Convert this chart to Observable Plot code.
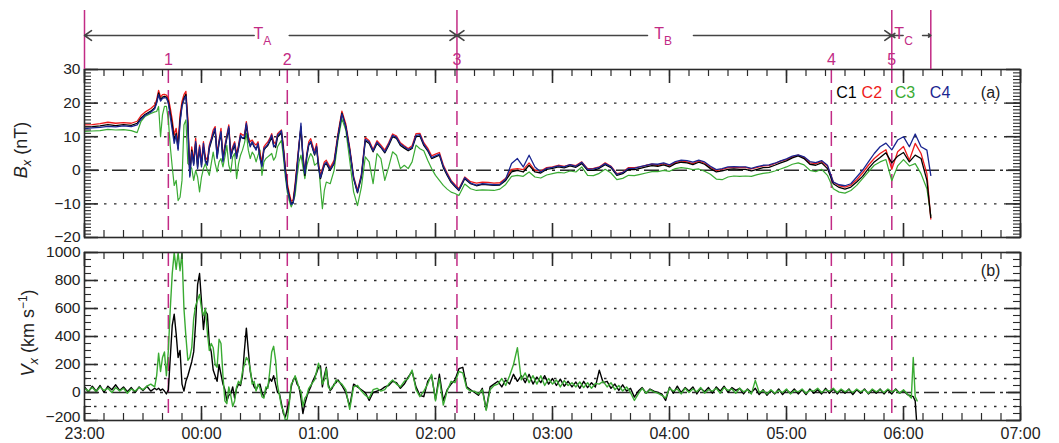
<!DOCTYPE html>
<html><head><meta charset="utf-8">
<script src="https://cdn.jsdelivr.net/npm/d3@7"></script>
<script src="https://cdn.jsdelivr.net/npm/@observablehq/plot@0.6"></script>
<style>
body{margin:0;background:#fff;}
#wrap{position:relative;width:1059px;height:443px;overflow:hidden;background:#fff;}
#wrap svg{position:absolute;left:0;}
</style></head><body><div id="wrap"></div>
<script>
// ---------------- DATA ----------------
// time axis in minutes after 23:00
const hourTicks = [0, 60, 120, 180, 240, 300, 360, 420, 480];
const hourLabels = ["23:00","00:00","01:00","02:00","03:00","04:00","05:00","06:00","07:00"];

// event markers (minutes after 23:00)
const markerTimes = [43, 104, 191, 383, 414];
const markerLabels = ["1", "2", "3", "4", "5"];
const boundaryTimes = [0, 191, 414, 434];
const intervalNames = ["A", "B", "C"];
const intervalLabelTimes = [91.5, 297, 420.3];
const arrowFrom = [87, 105, 288.7, 312.3, 419.8, 429.8];
const arrowTo   = [0, 191, 191, 414, 414, 434];

// panel (a) Bx (nT)
const yTicksA = [30, 20, 10, 0, -10, -20];
const gridA = [20, 10, -10];
const seriesNames = ["C1", "C2", "C3", "C4"];
const tB = [0,4,8,12,16,20,24,27,29,31,34,36,
 37,38,39,40,41,42,43,44,45,46,
 47,48,49,50,51,52,53,54,55,56,
 57,58,59,60,61,62,63,64,65,66,
 67,68,69,70,71,72,73,74,75,76,
 77,78,79,80,81,82,83,84,85,86,
 87,88,89,90,91,92,93,94,95,96,
 97,98,99,100,101,102,103,104,105,106,
 107,108,109,110,111,112,113,114,115,116,
 117,118,119,120,121,122,123,124,
 126,128,130,132,134,136,138,140,142,144,146,148,150,152,154,156,158,160,162,164,166,168,170,172,174,176,178,180,182,184,186,188,190,
 192,195,198,201,204,207,210,213,216,219,
 222,225,228,231,234,237,240,243,246,249,
 252,255,258,261,264,267,270,273,276,279,
 282,285,288,291,294,297,300,303,306,309,
 312,315,318,321,324,327,330,333,336,339,
 342,345,348,351,354,357,360,363,366,369,
 372,375,378,381,384,387,390,393,396,399,
 402,405,408,411,414,417,420,423,426,429,
 432,434];
const bxC1 = [12.9,13.0,13.2,13.6,13.3,13.6,13.4,14.0,15.6,16.6,17.6,18.6,
 20.3,23.0,21.0,21.8,22.0,21.8,20.5,17.0,13.5,9.0,
 11.0,6.5,15.0,19.3,21.5,22.6,14.0,-1.5,6.0,2.0,
 8.0,1.0,6.4,1.5,7.0,3.0,2.0,6.5,8.5,10.5,
 12.0,4.0,8.0,11.0,3.0,6.5,9.5,12.5,4.0,6.0,
 7.4,4.0,6.5,9.9,9.6,9.4,13.5,9.0,7.4,8.2,
 7.0,6.5,7.5,4.0,1.5,6.0,6.8,7.4,8.5,9.9,
 7.5,6.8,9.9,10.5,11.2,6.4,0.0,-5.0,-7.6,-9.9,
 -9.5,-5.0,1.0,7.0,13.0,3.5,-1.5,4.0,7.5,8.4,
 6.4,4.5,6.9,1.0,-2.5,-0.5,1.5,2.0,
 0.0,2.0,10.0,17.0,13.0,6.0,-2.5,-6.7,-2.0,8.8,8.0,5.5,8.0,6.8,5.2,7.4,10.0,9.5,7.4,6.6,5.8,6.5,10.0,10.2,7.4,5.8,3.5,4.0,4.5,0.8,-1.5,-3.6,-4.8,
 -6.0,-2.5,-4.0,-4.6,-4.2,-4.3,-4.5,-4.4,-3.0,-0.5,
 0.0,-0.5,1.5,-0.5,-0.8,0.3,0.6,1.0,0.7,1.3,
 0.9,2.0,0.0,0.0,0.6,1.7,0.8,-1.5,-1.0,0.3,
 0.2,0.6,1.0,1.4,1.2,1.6,1.0,2.0,2.4,2.2,
 1.7,2.4,1.8,0.5,-0.5,-0.2,0.3,0.4,0.3,0.3,
 -0.2,0.3,0.8,0.9,1.5,2.2,2.8,3.7,4.3,3.5,
 1.8,1.5,2.2,0.5,-4.0,-5.1,-5.6,-5.0,-3.5,-1.8,
 0.5,2.5,3.8,5.2,2.2,4.2,5.3,2.5,4.5,3.5,
 -3.0,-14.0];
const bxC2 = [13.5,13.6,13.9,14.3,14.0,14.2,14.0,14.6,16.3,17.3,18.4,19.4,
 21.0,23.8,21.8,22.5,22.6,22.4,21.5,18.5,15.0,10.5,
 12.5,8.0,16.5,20.5,22.5,23.5,15.5,-0.5,7.0,3.0,
 9.5,2.0,7.5,2.5,8.5,4.0,3.0,7.5,9.5,12.0,
 13.0,5.0,9.0,12.5,4.0,7.5,10.5,13.5,5.0,7.0,
 8.5,5.0,7.5,11.0,10.5,10.5,14.5,10.0,8.5,9.0,
 8.0,7.5,8.5,5.0,2.5,7.0,7.8,8.4,9.5,10.9,
 8.5,7.8,10.9,11.5,12.0,7.4,1.0,-4.0,-6.8,-9.2,
 -8.8,-4.0,2.0,8.0,12.5,4.5,-0.5,5.0,8.5,9.4,
 7.4,5.5,7.9,2.0,-1.5,0.5,2.5,3.0,
 0.8,3.0,11.0,17.6,13.8,6.8,-1.8,-6.0,-1.2,9.8,8.8,6.2,8.8,7.5,6.0,8.2,10.8,10.2,8.2,7.3,6.5,7.3,10.9,11.0,8.2,6.6,4.3,4.8,5.3,1.6,-0.8,-3.0,-4.3,
 -5.5,-2.0,-3.4,-3.8,-3.5,-3.6,-3.8,-3.7,-2.4,0.3,
 0.5,0.2,2.2,0.0,-0.2,0.8,1.0,1.5,1.2,1.7,
 1.4,2.5,0.5,0.6,1.0,2.2,1.2,-1.0,-0.6,0.8,
 0.8,1.0,1.5,1.8,1.5,2.0,1.4,2.3,2.8,2.5,
 2.0,2.8,2.1,0.9,-0.1,0.3,0.8,0.9,0.8,0.9,
 0.4,0.9,1.3,1.4,2.0,2.7,3.2,4.0,4.5,3.8,
 2.2,2.0,2.6,1.2,-3.5,-4.6,-5.0,-4.4,-2.8,-0.8,
 1.5,3.5,5.0,6.1,0.3,5.5,7.1,3.0,8.0,5.0,
 -1.0,-14.5];
const bxC3 = [11.6,11.7,11.8,12.2,12.0,12.1,11.8,11.2,14.6,16.0,16.9,17.4,
 17.5,19.0,10.0,16.5,19.0,19.0,15.0,7.0,1.0,-4.5,
 -3.0,-9.0,-8.0,-3.0,13.5,15.0,2.0,1.5,0.5,-3.0,
 0.0,-2.0,-6.4,-2.0,0.5,2.0,0.0,-1.5,2.0,5.4,
 2.0,-0.5,2.5,3.5,1.0,4.0,7.4,1.5,-0.5,4.0,
 5.0,-2.5,2.0,4.5,6.0,8.0,11.0,6.0,3.5,5.4,
 4.5,2.5,4.5,6.0,-1.5,2.5,3.5,4.0,4.5,5.0,
 3.0,4.0,7.0,8.0,8.9,4.0,-2.0,-6.5,-9.0,-10.9,
 -9.5,-7.4,-2.0,2.5,4.5,1.0,-2.5,1.5,3.5,5.0,
 4.0,1.5,2.0,2.5,-5.0,-11.4,-6.0,-3.5,
 -4.0,0.0,9.0,15.3,12.0,3.0,-6.4,-10.5,-5.0,4.0,2.5,-4.0,5.0,3.5,-3.0,1.0,5.5,4.5,0.5,1.5,0.5,2.5,7.5,6.4,5.8,3.0,0.5,-1.5,-3.0,-4.5,-5.6,-6.5,-6.9,
 -7.5,-4.1,-5.5,-6.0,-5.8,-5.9,-6.0,-5.6,-4.2,-1.8,
 -1.5,-1.8,-0.5,-2.0,-2.3,-1.4,-1.0,-0.6,-0.8,-0.2,
 -0.5,1.0,-1.5,-1.6,-0.9,0.3,-0.8,-2.8,-2.4,-1.5,
 -1.6,-1.2,-0.8,-0.4,-0.4,0.0,-0.3,0.5,0.8,0.6,
 0.2,0.4,-0.3,-1.2,-2.6,-2.8,-2.0,-1.7,-1.8,-1.7,
 -1.8,-1.3,-0.9,-0.7,-0.2,0.4,1.0,1.8,2.2,1.6,
 0.0,-0.4,0.3,-1.5,-5.5,-6.5,-6.8,-6.0,-4.5,-2.5,
 -0.5,1.5,2.5,3.2,-3.1,1.3,3.2,1.3,2.0,-1.0,
 -5.5,-13.5];
const bxC4 = [12.4,12.6,12.8,13.1,12.9,13.2,13.0,13.5,15.2,16.3,17.3,18.3,
 20.0,22.5,20.6,21.4,21.6,21.5,20.0,16.0,12.0,8.0,
 10.5,6.0,14.0,19.0,21.0,22.0,13.0,-2.0,5.5,1.5,
 8.5,0.5,7.0,1.0,8.0,2.5,1.5,7.0,9.0,11.0,
 12.5,3.5,8.5,11.5,2.5,7.0,10.0,13.0,3.5,6.5,
 8.0,3.5,7.0,10.5,9.5,10.0,14.0,9.5,7.0,8.5,
 7.2,6.0,8.0,3.5,1.0,6.5,7.0,7.8,9.0,10.5,
 7.0,7.5,10.5,11.0,11.8,6.0,-0.5,-5.5,-8.0,-10.2,
 -9.8,-5.5,0.5,7.5,14.0,4.0,-1.0,4.5,7.8,8.6,
 6.6,4.8,7.2,1.2,-2.2,-0.2,1.8,2.4,
 0.3,2.2,10.2,16.8,13.0,6.2,-2.2,-6.5,-1.5,9.2,8.4,5.8,8.4,7.0,5.5,7.8,10.4,9.8,7.8,7.0,6.2,6.8,10.4,10.6,7.8,6.1,3.8,4.3,4.8,1.2,-1.2,-3.3,-4.6,
 -5.8,-2.2,-3.8,-4.4,-4.0,-4.1,-4.3,-4.2,-2.6,2.0,
 3.5,1.0,4.5,1.0,-0.5,0.6,0.9,1.3,1.0,1.7,
 1.2,2.4,0.3,0.4,0.9,2.0,1.1,-1.2,-0.7,0.6,
 0.6,1.1,1.5,1.9,1.8,2.2,1.6,2.6,3.0,2.9,
 2.4,3.0,2.5,1.2,0.2,0.5,1.0,1.1,1.0,1.0,
 0.6,1.1,1.5,1.6,2.1,2.8,3.4,4.2,4.6,4.0,
 2.6,2.3,2.9,1.5,-3.5,-4.3,-4.6,-4.0,-2.0,0.0,
 2.5,5.0,7.0,8.1,6.1,9.0,10.0,7.0,10.8,7.0,
 6.0,-1.5];

// panel (b) Vx (km/s)
const yTicksB = [1000, 800, 600, 400, 200, 0];
const yTickBottomB = [-200];
const gridB = [800, 600, 400, 200, 100, -100];
const tV = [0,2,4,6,8,10,12,14,16,18,20,22,24,26,28,30,32,34,36,
 37,38,39,40,41,42,43,44,45,46,
 47,48,49,50,51,52,53,54,55,56,
 57,58,59,60,61,62,63,64,65,66,
 67,68,69,70,71,72,73,74,75,76,
 77,78,79,80,81,82,83,84,85,86,
 87,88,89,90,91,92,93,94,95,96,
 97,98,99,100,101,102,103,104,105,106,
 107,108,109,110,111,112,113,114,115,116,
 117,118,119,120,121,122,123,124,125,126,
 127,128,129,130,
 132,134,136,138,140,142,144,146,148,150,
 152,154,156,158,160,162,164,166,168,170,
 172,174,176,178,180,182,184,186,188,190,
 192,194,196,198,200,202,204,206,208,210,
 212,214,216,218,220,222,224,226,228,230,
 232,234,236,238,240,242,244,246,248,250,
 252,254,256,258,260,262,264,266,268,270,
 272,274,276,278,280,282,284,286,288,290,
 292,294,296,298,300,302,304,306,308,310,
 312,314,316,318,320,322,324,326,328,330,
 332,334,336,338,340,342,344,346,348,350,
 352,354,356,358,360,362,364,366,368,370,
 372,374,376,378,380,382,384,386,388,390,
 392,394,396,398,400,402,404,406,408,410,
 412,414,416,418,420,422,424,
 425,426,427];
const vxC1 = [40,5,45,10,50,0,45,20,55,15,40,5,35,0,40,15,45,10,30,
 20,30,15,25,10,-10,20,250,480,560,
 420,250,300,60,10,80,120,170,220,290,
 500,770,850,650,450,580,560,350,290,160,
 120,80,200,130,60,20,-60,-20,-10,40,
 -40,30,60,50,120,300,460,300,150,80,
 40,20,50,60,0,-30,20,40,100,80,
 120,60,0,-10,-80,-150,-175,-120,-60,40,
 90,110,60,40,-40,-150,-80,-30,10,40,
 80,110,140,180,190,40,120,180,60,14,
 30,60,70,90,
 50,0,-100,60,40,20,0,-57,0,10,
 20,40,50,80,70,30,60,110,150,40,
 -20,-30,80,120,-50,130,-57,20,60,90,
 170,180,40,20,0,-20,30,-120,40,60,
 80,40,90,60,130,80,120,70,130,60,
 110,70,120,60,100,50,95,45,80,40,
 75,30,80,35,70,40,160,70,80,30,
 60,15,55,10,30,-33,10,35,-5,25,
 10,0,-10,-57,38,-5,45,0,35,10,
 40,-10,30,5,35,-5,40,10,45,0,
 35,15,30,-10,25,0,30,-15,20,-20,
 15,-10,25,-15,20,-5,25,-10,20,-15,
 25,-5,20,-10,30,-5,25,-10,20,-5,
 25,-15,20,-5,25,-10,20,-5,25,-10,
 20,-10,25,-5,15,-15,-25,
 -30,-60,-260];
const vxC3 = [30,10,35,5,40,15,30,0,35,10,30,-5,25,10,35,20,45,60,40,
 120,280,150,250,290,120,300,600,850,1000,
 880,1000,870,1000,600,400,230,250,320,530,
 620,660,700,600,550,600,430,300,350,320,
 200,180,380,350,120,-60,-80,40,-20,-100,
 -60,40,80,60,150,200,250,230,170,60,
 80,10,60,30,-30,-40,40,30,150,290,
 330,230,50,-20,-100,-130,-200,-190,-80,60,
 80,120,80,30,10,-100,-40,-20,30,50,
 70,90,150,210,160,60,90,170,40,20,
 40,50,90,80,
 60,20,-120,40,50,10,-20,-40,20,30,
 10,20,60,90,60,40,80,100,160,20,
 -30,10,60,130,-60,100,-90,10,80,70,
 150,140,30,10,10,-10,20,-128,20,50,
 60,100,50,120,200,320,90,140,70,120,
 60,120,50,100,60,90,40,85,50,70,
 40,75,35,70,30,65,60,80,40,70,
 20,50,10,40,0,-57,-10,30,-5,20,
 5,-5,-20,-40,30,10,25,-10,30,0,
 25,5,35,-5,20,10,30,-5,35,15,
 25,-5,30,5,20,-10,86,0,15,-10,
 20,-5,15,0,25,-10,15,5,25,-5,
 15,10,30,0,20,10,30,0,25,5,
 20,0,25,5,20,-5,25,5,20,0,
 25,5,20,-5,20,-10,-40,
 250,-30,-60];

// ---------------- STYLE / LAYOUT ----------------
const FONT = '"Liberation Sans", Arial, Helvetica, sans-serif';
const MAG = "#c22b85";
const COLORS = {C1: "#000000", C2: "#ee1b1b", C3: "#3aab33", C4: "#1a2590"};
const FW = 1059, ML = 84, MR = 39, PH = 168;
const IW = FW - ML - MR;
const AX = "#2a2a2a";
const fmt = d3.format("d");

const series = (ts, vs) => ts.map((t, i) => ({t, v: vs[i]}));

function frameTicks(yMinor, yMajor) {
  const xMinor = d3.range(0, 481, 10);
  return [
    Plot.tickX(xMinor, {x: d => d, insetBottom: PH - 7, stroke: AX, strokeWidth: 1.2}),
    Plot.tickX(xMinor, {x: d => d, insetTop: PH - 7, stroke: AX, strokeWidth: 1.2}),
    Plot.tickX(hourTicks, {x: d => d, insetBottom: PH - 14, stroke: AX, strokeWidth: 1.6}),
    Plot.tickX(hourTicks, {x: d => d, insetTop: PH - 14, stroke: AX, strokeWidth: 1.6}),
    Plot.tickY(yMinor, {y: d => d, insetRight: IW - 7, stroke: AX, strokeWidth: 1.1}),
    Plot.tickY(yMinor, {y: d => d, insetLeft: IW - 7, stroke: AX, strokeWidth: 1.1}),
    Plot.tickY(yMajor, {y: d => d, insetRight: IW - 14, stroke: AX, strokeWidth: 1.6}),
    Plot.tickY(yMajor, {y: d => d, insetLeft: IW - 14, stroke: AX, strokeWidth: 1.6})
  ];
}

const wrap = document.getElementById("wrap");

// ---- panel (a)
const legendX = [385.5, 398.5, 415.5, 433.5];
const plotA = Plot.plot({
  width: FW, height: 176, marginLeft: ML, marginRight: MR, marginTop: 4, marginBottom: 4,
  style: {background: "transparent", fontFamily: FONT, color: "#222", overflow: "visible"},
  x: {domain: [0, 480], axis: null, label: null},
  y: {domain: [-20, 30], label: null},
  marks: [
    Plot.ruleY(gridA, {stroke: AX, strokeWidth: 1.4, strokeDasharray: "2.5,7.5"}),
    Plot.ruleY([0], {stroke: AX, strokeWidth: 1.4, strokeDasharray: "15,5,3,5"}),
    Plot.ruleX(markerTimes, {stroke: MAG, strokeWidth: 1.5, strokeDasharray: "14,7"}),
    Plot.line(series(tB, bxC3), {x: "t", y: "v", stroke: COLORS.C3, strokeWidth: 1.2}),
    Plot.line(series(tB, bxC2), {x: "t", y: "v", stroke: COLORS.C2, strokeWidth: 1.3}),
    Plot.line(series(tB, bxC1), {x: "t", y: "v", stroke: COLORS.C1, strokeWidth: 1.3}),
    Plot.line(series(tB, bxC4), {x: "t", y: "v", stroke: COLORS.C4, strokeWidth: 1.3}),
    ...frameTicks(d3.range(-20, 31, 1), yTicksA),
    Plot.frame({stroke: AX, strokeWidth: 1.6}),
    Plot.axisY({ticks: yTicksA, tickSize: 0, tickPadding: 4, fontSize: 15.5, label: null, tickFormat: fmt}),
    ...seriesNames.map((n, i) => Plot.text([n], {x: legendX[i], y: 23, text: d => d, fill: COLORS[n], fontSize: 16, textAnchor: "start"})),
    Plot.text(["(a)"], {x: 469.7, y: 23, text: d => d, fill: "#222", fontSize: 16, textAnchor: "end"})
  ]
});
plotA.style.top = "65px";
{
  const t = d3.select(plotA).append("text")
    .attr("transform", "translate(27,85) rotate(-90)")
    .attr("text-anchor", "middle").attr("font-size", 18).attr("fill", "#222").attr("font-family", FONT);
  t.append("tspan").attr("font-style", "italic").text("B");
  t.append("tspan").attr("font-style", "italic").attr("font-size", 13).attr("dy", 4).text("x");
  t.append("tspan").attr("dy", -4).text(" (nT)");
}
wrap.appendChild(plotA);

// ---- panel (b)
const plotB = Plot.plot({
  width: FW, height: 195, marginLeft: ML, marginRight: MR, marginTop: 4, marginBottom: 23,
  style: {background: "transparent", fontFamily: FONT, color: "#222", overflow: "visible"},
  x: {domain: [0, 480], label: null},
  y: {domain: [-200, 1000], label: null},
  marks: [
    Plot.ruleY(gridB, {stroke: AX, strokeWidth: 1.4, strokeDasharray: "2.5,7.5"}),
    Plot.ruleY([0], {stroke: AX, strokeWidth: 1.4, strokeDasharray: "15,5,3,5"}),
    Plot.ruleX(markerTimes, {stroke: MAG, strokeWidth: 1.5, strokeDasharray: "14,7"}),
    Plot.line(series(tV, vxC1), {x: "t", y: "v", stroke: COLORS.C1, strokeWidth: 1.4, clip: true}),
    Plot.line(series(tV, vxC3), {x: "t", y: "v", stroke: COLORS.C3, strokeWidth: 1.4, clip: true}),
    ...frameTicks(d3.range(-200, 1001, 50), yTicksB.concat(yTickBottomB)),
    Plot.frame({stroke: AX, strokeWidth: 1.6}),
    Plot.axisY({ticks: yTicksB, tickSize: 0, tickPadding: 4, fontSize: 15.5, label: null, tickFormat: fmt}),
    Plot.axisY({ticks: yTickBottomB, tickSize: 0, tickPadding: 4, fontSize: 15.5, label: null, tickFormat: fmt, dy: -3}),
    Plot.axisX({ticks: hourTicks, tickSize: 0, tickPadding: 7, fontSize: 16, label: null,
      tickFormat: d => hourLabels[hourTicks.indexOf(d)], style: {letterSpacing: "1.5px"}}),
    Plot.text(["(b)"], {x: 469.7, y: 871, text: d => d, fill: "#222", fontSize: 16, textAnchor: "end"})
  ]
});
plotB.style.top = "248px";
{
  const t = d3.select(plotB).append("text")
    .attr("transform", "translate(34,85) rotate(-90)")
    .attr("text-anchor", "middle").attr("font-size", 18).attr("fill", "#222").attr("font-family", FONT);
  t.append("tspan").attr("font-style", "italic").text("V");
  t.append("tspan").attr("font-style", "italic").attr("font-size", 13).attr("dy", 4).text("x");
  t.append("tspan").attr("dy", -4).text(" (km s");
  t.append("tspan").attr("font-size", 12).attr("dy", -7).text("\u22121");
  t.append("tspan").attr("dy", 7).text(")");
}
wrap.appendChild(plotB);

// ---- top annotation (intervals T_A, T_B, T_C and event numbers)
const arrows = arrowFrom.map((f, i) => ({x1: f, x2: arrowTo[i]}));
const plotT = Plot.plot({
  width: FW, height: 69, marginLeft: ML, marginRight: MR, marginTop: 0, marginBottom: 0,
  style: {background: "transparent", fontFamily: FONT, overflow: "visible"},
  x: {domain: [0, 480], axis: null},
  y: {domain: [0, 69], reverse: true, axis: null},
  marks: [
    Plot.ruleX(boundaryTimes, {x: d => d, y1: 10, y2: 69, stroke: MAG, strokeWidth: 1.5}),
    Plot.arrow(arrows, {x1: "x1", x2: "x2", y1: 35, y2: 35, stroke: "#444", strokeWidth: 1.6, headLength: 8, headAngle: 70}),
    Plot.text(markerTimes, {x: d => d, y: 59, text: (d, i) => markerLabels[i], fill: MAG, fontSize: 16})
  ]
});
plotT.style.top = "0px";
{
  const xs = plotT.scale("x");
  const svg = d3.select(plotT);
  intervalNames.forEach((n, i) => {
    const t = svg.append("text").attr("x", xs.apply(intervalLabelTimes[i])).attr("y", 39)
      .attr("fill", MAG).attr("font-size", 16).attr("font-family", FONT);
    t.append("tspan").text("T");
    t.append("tspan").attr("font-size", 12).attr("dy", 6).text(n);
  });
}
wrap.appendChild(plotT);
</script></body></html>
